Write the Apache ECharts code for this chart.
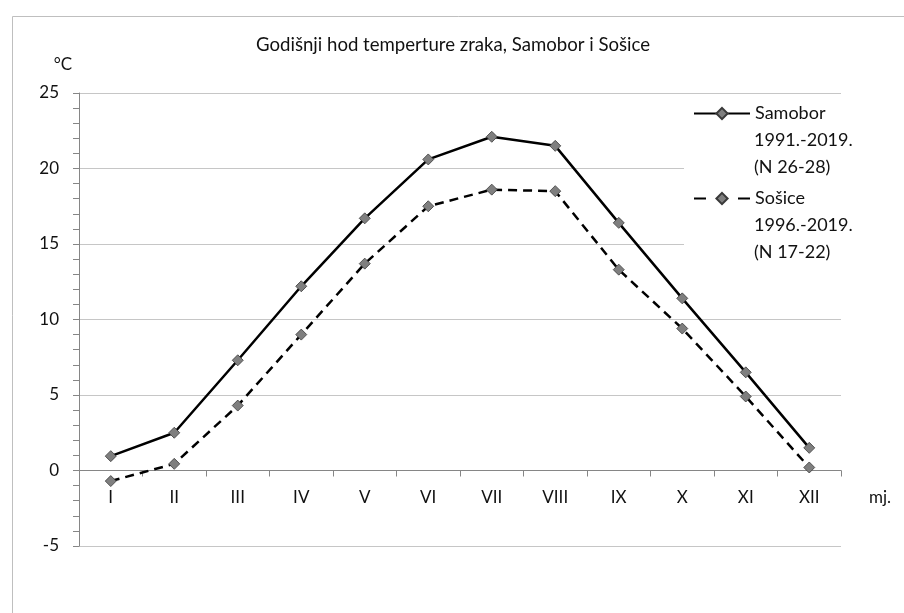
<!DOCTYPE html>
<html><head><meta charset="utf-8">
<script src="https://cdn.jsdelivr.net/npm/echarts@6/dist/echarts.min.js"></script>
<style>html,body{margin:0;padding:0;background:#fff}#c{width:904px;height:613px}</style>
</head><body><div id="c"></div>
<script>
const months = ['I','II','III','IV','V','VI','VII','VIII','IX','X','XI','XII'];
const samobor = [0.95, 2.5, 7.3, 12.2, 16.7, 20.6, 22.1, 21.5, 16.4, 11.4, 6.5, 1.5];
const sosice = [-0.7, 0.44, 4.3, 9.0, 13.7, 17.5, 18.6, 18.5, 13.3, 9.4, 4.9, 0.2];
const nameSamobor = 'Samobor\n1991.-2019.\n(N 26-28)';
const nameSosice = 'Sošice\n1996.-2019.\n(N 17-22)';
const titleText = 'Godišnji hod temperture zraka, Samobor i Sošice';
const yTicks = {min: -5, max: 25, interval: 5};

const F = 'Lato, "Open Sans", sans-serif';
const chart = echarts.init(document.getElementById('c'), null, {renderer: 'canvas'});
const marker = {color: '#7f7f7f', borderColor: '#3a3a3a', borderWidth: 0.8};

// extra legend lines (2nd and 3rd line of each series name), placed under the legend's first line
const legendX = 754, legendY0 = 113, lineH = 27, itemStep = 85;
const extraLines = [];
[nameSamobor, nameSosice].forEach(function (nm, i) {
  nm.split('\n').slice(1).forEach(function (ln, j) {
    extraLines.push({type: 'text', z: 100, zlevel: 0, left: legendX, top: legendY0 + i * itemStep + (j + 1) * lineH - 9,
      style: {text: ln, font: '18px ' + F, fill: '#111'}});
  });
});

chart.setOption({
  backgroundColor: '#fff',
  animation: false,
  textStyle: {fontFamily: F},
  title: {text: titleText, left: 251, top: 30,
    textStyle: {fontFamily: F, fontSize: 18.6, fontWeight: 'normal', color: '#111'}},
  graphic: [{type: 'rect', left: 10, top: 14, z: -10,
    shape: {width: 1000, height: 1000}, style: {fill: 'none', stroke: '#bfbfbf', lineWidth: 1}}].concat(extraLines),
  grid: [
    {left: 79, right: 63, top: 93, bottom: 67},
    {left: 79, right: 63, top: 93, bottom: 142}
  ],
  legend: {
    orient: 'vertical', left: 684, top: 95,
    padding: [5, 60, 54, 9], itemGap: 58,
    backgroundColor: '#fff',
    itemWidth: 56, itemHeight: 14,
    textStyle: {fontFamily: F, fontSize: 18, color: '#111', lineHeight: 27},
    formatter: function (name) { return name.split('\n')[0]; },
    data: [
      {name: nameSamobor},
      {name: nameSosice, lineStyle: {type: [12, 32]}}
    ]
  },
  xAxis: [{
    type: 'category', data: months, boundaryGap: true, gridIndex: 0,
    name: 'mj.', nameLocation: 'end', nameGap: 28,
    nameTextStyle: {fontFamily: F, fontSize: 17, color: '#111', verticalAlign: 'top', padding: [19, 0, 0, 0]},
    axisLine: {onZero: true, lineStyle: {color: '#868686', width: 1}},
    axisTick: {show: true, length: 6, inside: false, lineStyle: {color: '#868686'}},
    axisLabel: {show: false},
    splitLine: {show: false}
  }, {
    type: 'category', data: months, boundaryGap: true, gridIndex: 1,
    axisLine: {show: false, onZero: false},
    axisTick: {show: false},
    axisLabel: {fontFamily: F, fontSize: 17, color: '#111', margin: 18},
    splitLine: {show: false}
  }],
  yAxis: [{
    type: 'value', min: yTicks.min, max: yTicks.max, interval: yTicks.interval, gridIndex: 0,
    name: '°C', nameLocation: 'end', nameGap: 20,
    nameTextStyle: {fontFamily: F, fontSize: 17, color: '#111', padding: [0, 32, 0, 0]},
    axisLine: {show: true, lineStyle: {color: '#868686', width: 1}},
    axisTick: {show: true, length: 6, lineStyle: {color: '#868686'}},
    minorTick: {show: true, splitNumber: 5, length: 6, lineStyle: {color: '#868686'}},
    axisLabel: {fontFamily: F, fontSize: 17, color: '#111', margin: 20},
    splitLine: {show: true, lineStyle: {color: '#c6c6c6', width: 1}}
  }, {
    type: 'value', gridIndex: 1, min: 0, max: 1, show: false
  }],
  series: [
    {name: nameSamobor, type: 'line', data: samobor, symbol: 'diamond', symbolSize: 11,
      lineStyle: {color: '#000', width: 2.5, type: 'solid'}, itemStyle: marker, z: 3},
    {name: nameSosice, type: 'line', data: sosice, symbol: 'diamond', symbolSize: 11,
      lineStyle: {color: '#000', width: 2.5, type: [9, 6]}, itemStyle: marker, z: 2}
  ]
});
</script></body></html>
